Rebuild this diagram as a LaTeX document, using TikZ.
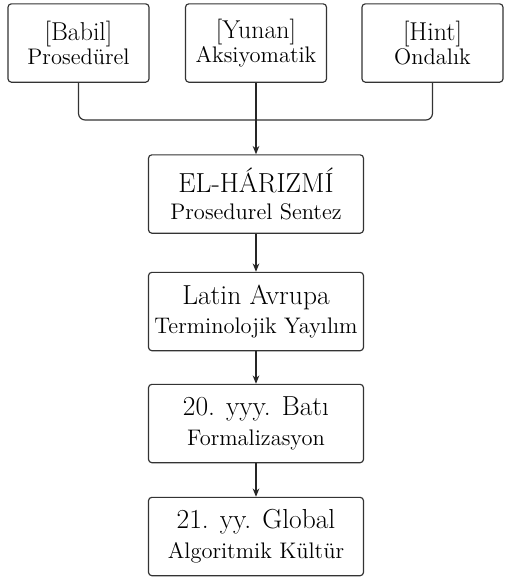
\documentclass[tikz,border=0pt]{standalone}
\usepackage{fontspec}
\usetikzlibrary{arrows.meta}
\newcommand\eratitle[1]{{\fontsize{16.5}{18}\selectfont #1}}
\newcommand\erasub[1]{{\fontsize{13.5}{18}\selectfont #1}}
\newcommand\roottitle[1]{{\fontsize{15.5}{13}\selectfont #1}}
\newcommand\rootsub[1]{{\fontsize{13.5}{13}\selectfont #1}}
\tikzset{
  era/.style={draw=black!80, line width=0.7pt, rounded corners=2pt, fill=white,
    minimum width=129pt, minimum height=47pt, inner sep=0pt, align=center},
  root/.style={era, minimum width=84.6pt},
  flow/.style={draw=black!85, line width=0.7pt, -{Stealth[length=5pt,width=4pt]}}
}
\begin{document}
\begin{tikzpicture}[x=0.6pt,y=-0.6pt]
  \useasboundingbox (0,0) rectangle (505,579);
  % sources
  \node[root] (babil) at (78.5,43) {\roottitle{[Babil]}\\\rootsub{Prosedürel}};
  \node[root] (yunan) at (256,43) {\roottitle{[Yunan]}\\\rootsub{Aksiyomatik}};
  \node[root] (hint) at (432.5,43) {\roottitle{[Hint]}\\\rootsub{Ondalık}};
  % chain
  \node[era] (harizmi) at (256,194) {\eratitle{EL-HÁRIZMÍ}\\[4pt]\erasub{Prosedurel Sentez}};
  \node[era] (latin) at (256,311.5) {\eratitle{Latin Avrupa}\\[4pt]\erasub{Terminolojik Yayılım}};
  \node[era] (bati) at (256,423.5) {\eratitle{20. yyy. Batı}\\[4pt]\erasub{Formalizasyon}};
  \node[era] (global) at (256,536.5) {\eratitle{21. yy. Global}\\[4pt]\erasub{Algoritmik Kültür}};
  \coordinate (merge) at (256,120);
  \draw[draw=black!80, line width=0.7pt, rounded corners=4pt]
    (babil.south) |- (merge) -| (hint.south);
  \draw[flow] (yunan) -- (harizmi);
  \draw[flow] (harizmi) -- (latin);
  \draw[flow] (latin) -- (bati);
  \draw[flow] (bati) -- (global);
\end{tikzpicture}
\end{document}
